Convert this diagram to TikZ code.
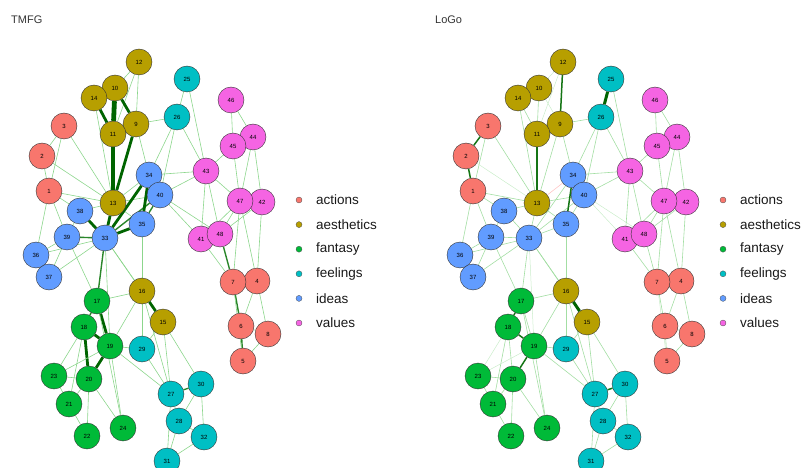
\documentclass[tikz,border=0pt]{standalone}
\usepackage{fontspec}
\setmainfont{Liberation Sans}
\usepackage{tikz}
\usetikzlibrary{arrows,shapes}
\pgfdeclarelayer{background}
\pgfsetlayers{background,main}
\definecolor{act}{HTML}{F8766D}
\definecolor{aes}{HTML}{B79F00}
\definecolor{fan}{HTML}{00BA38}
\definecolor{fee}{HTML}{00BFC4}
\definecolor{ide}{HTML}{619CFF}
\definecolor{val}{HTML}{F564E3}
\definecolor{edgedark}{RGB}{0,100,0}
\definecolor{edgelight}{RGB}{140,214,140}
\tikzstyle{vertex}=[circle, draw=black!80
,line width=0.4pt
,minimum size=26pt
,inner sep=0pt
,font=\fontsize{6}{6}\selectfont
]
\tikzstyle{legdot}=[circle, draw=black!70, line width=0.3pt, minimum size=6pt, inner sep=0pt]
\tikzstyle{legtext}=[anchor=west, inner sep=0pt, text=black!90, font=\fontsize{13.5}{14}\selectfont]
\tikzstyle{title}=[anchor=west, inner sep=0pt, text=black!80, font=\fontsize{11}{12}\selectfont]
% edge weights, TMFG
\tikzstyle{e1} = [draw=edgelight,line width=0.6pt]
\tikzstyle{e2} = [draw=edgedark!70!edgelight,line width=1.4pt]
\tikzstyle{e3} = [draw=edgedark,line width=2.8pt]
\tikzstyle{e4} = [draw=edgedark,line width=4.8pt]
% edge weights, LoGo
\tikzstyle{l0} = [draw=edgelight!45,line width=0.5pt]
\tikzstyle{l1} = [draw=edgelight!80,line width=0.6pt]
\tikzstyle{l2} = [draw=edgedark!85!edgelight,line width=1.5pt]
\tikzstyle{l3} = [draw=edgedark,line width=3pt]
\tikzstyle{ln} = [draw=red!25,line width=0.5pt]
\def\vlist{{(49,191)/1/act}, {(42,156)/2/act}, {(64,126)/3/act}, {(257,281)/4/act}, {(243,361)/5/act}, {(241,326)/6/act}, {(233,282)/7/act}, {(268,334)/8/act},
 {(136,124)/9/aes}, {(115,88)/10/aes}, {(113,134)/11/aes}, {(139,62)/12/aes}, {(113,203)/13/aes}, {(94,98)/14/aes}, {(163,322)/15/aes}, {(142,291)/16/aes},
 {(97,301)/17/fan}, {(84,327)/18/fan}, {(110,346)/19/fan}, {(89,379)/20/fan}, {(69,404)/21/fan}, {(87,436)/22/fan}, {(54,376)/23/fan}, {(123,428)/24/fan},
 {(187,79)/25/fee}, {(177,117)/26/fee}, {(171,394)/27/fee}, {(179,421)/28/fee}, {(142,349)/29/fee}, {(201,384)/30/fee}, {(167,461)/31/fee}, {(204,437)/32/fee},
 {(105,238)/33/ide}, {(149,175)/34/ide}, {(142,224)/35/ide}, {(36,255)/36/ide}, {(49,277)/37/ide}, {(80,211)/38/ide}, {(67,237)/39/ide}, {(160,195)/40/ide},
 {(201,239)/41/val}, {(262,202)/42/val}, {(206,171)/43/val}, {(253,137)/44/val}, {(233,146)/45/val}, {(231,100)/46/val}, {(240,201)/47/val}, {(220,234)/48/val}}
\def\leglist{act/actions, aes/aesthetics, fan/fantasy, fee/feelings, ide/ideas, val/values}

\begin{document}
\begin{tikzpicture}[x=1pt,y=-1pt]
    \useasboundingbox (0,0) rectangle (804,468);
    % Titles
    \node[title] (Ttitle) at (11,20) {TMFG};
    \node[title] (Ltitle) at (435,20) {LoGo};
    % First we draw the vertices of both networks
    \foreach \pos/\name/\cl in \vlist
        \node[vertex, fill=\cl] (T\name) at \pos {\name};
    \begin{scope}[xshift=424]
    \foreach \pos/\name/\cl in \vlist
        \node[vertex, fill=\cl] (L\name) at \pos {\name};
    \end{scope}

    % Legends
    \foreach \cl/\txt [count=\i from 0] in \leglist {
        \node[legdot, fill=\cl] (Tk\i) at (299,200+24.6*\i) {};
        \node[legtext] (Tt\i) at (316,200+24.6*\i) {\txt};
        \node[legdot, fill=\cl] (Lk\i) at (723,200+24.6*\i) {};
        \node[legtext] (Lt\i) at (740,200+24.6*\i) {\txt};
    }

    % Connect vertices with edges (TMFG weight / LoGo weight)
    \begin{pgfonlayer}{background}
    \foreach \source/\dest/\w/\v in {12/10/e1/l0, 12/9/e1/l2, 12/11/e1/l0, 10/14/e1/l1, 10/11/e4/l1, 10/9/e3/l0, 14/11/e3/l1, 14/13/e1/l1,
        9/11/e1/l1, 9/13/e3/l1, 11/13/e4/l2, 9/26/e1/l1, 9/34/e1/l1, 25/26/e1/l3, 25/43/e1/l1, 26/43/e1/l1, 26/34/e1/l1, 26/40/e1/l1,
        3/2/e1/l2, 3/1/e1/l1, 3/13/e1/l1, 2/1/e1/l2, 2/13/e1/l0, 1/13/e1/l1, 1/38/e1/l1, 1/39/e1/l1, 1/36/e1/l1,
        38/33/e3/l1, 38/39/e1/l1, 38/13/e1/l1, 39/33/e2/l1, 39/36/e1/l1, 39/37/e1/l1, 36/37/e1/l1, 36/33/e1/l1, 37/33/e1/l1, 39/17/e1/l1,
        13/33/e3/l1, 13/34/e1/ln, 13/40/e1/l1, 13/35/e1/l1, 33/34/e3/l1, 33/35/e3/l1, 33/40/e2/l1, 33/17/e2/l1, 33/16/e1/l1, 33/19/e1/l0, 33/15/e1/l1,
        34/35/e3/l2, 34/40/e1/l1, 40/35/e2/l1, 34/43/e1/l1, 40/43/e1/l1, 40/41/e1/l0, 40/48/e1/l0, 35/16/e1/l1,
        46/45/e1/l1, 46/44/e1/l1, 45/44/e1/l1, 45/43/e1/l1, 45/47/e1/l1, 44/47/e1/l1, 44/42/e1/l1, 43/47/e1/l1, 43/41/e1/l1, 43/48/e1/l1,
        47/42/e1/l1, 47/48/e1/l1, 47/41/e1/l1, 48/41/e1/l1, 48/42/e1/l1, 47/7/e1/l1, 47/4/e1/l1, 42/4/e1/l1, 48/7/e2/l1, 41/7/e1/l1,
        7/4/e1/l1, 7/6/e2/l1, 4/6/e1/l1, 4/8/e1/l1, 6/8/e1/l1, 6/5/e2/l1, 8/5/e1/l1, 7/5/e1/l0,
        16/15/e3/l3, 16/17/e1/l1, 16/19/e1/l1, 16/29/e1/l1, 17/18/e2/l2, 17/19/e3/l1, 18/19/e3/l2, 18/20/e3/l1, 19/20/e3/l2,
        18/23/e1/l0, 18/21/e1/l1, 19/29/e1/l1, 19/27/e1/l1, 19/24/e1/l1, 17/24/e1/l1, 20/23/e1/l1, 20/21/e1/l1, 20/22/e1/l1, 20/24/e1/l1,
        23/21/e1/l1, 21/22/e1/l1, 23/19/e1/l0, 15/29/e1/l1, 15/27/e1/l1, 15/30/e1/l1, 16/27/e1/l1, 29/27/e1/l1, 27/30/e2/l2,
        27/28/e1/l1, 28/30/e1/l1, 28/31/e1/l1, 28/32/e1/l1, 30/32/e1/l1, 31/32/e1/l1, 27/31/e1/l1}
    {
        \path[\w] (T\source) -- (T\dest);
        \path[\v] (L\source) -- (L\dest);
    }
    \end{pgfonlayer}
\end{tikzpicture}
\end{document}
